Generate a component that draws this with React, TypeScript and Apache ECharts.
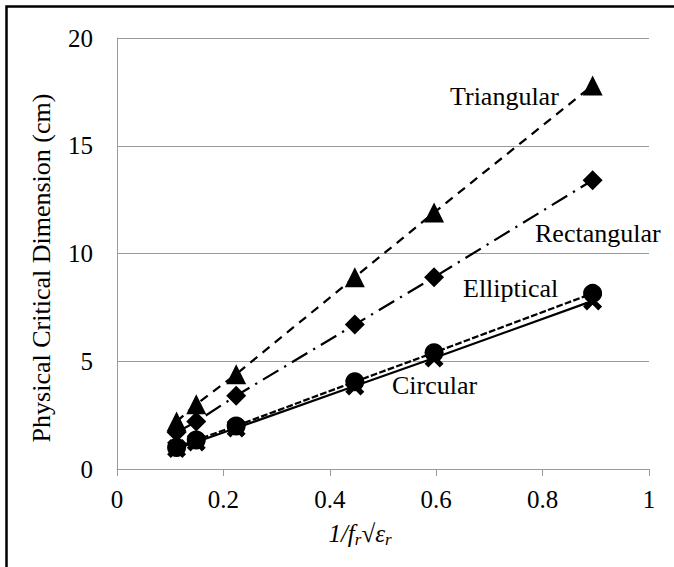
import React, { useEffect, useRef } from "react";
import * as echarts from "echarts";

const xValues = [0.112, 0.149, 0.224, 0.447, 0.596, 0.894];
const triangular = [2.2, 3.0, 4.4, 8.9, 11.9, 17.8];
const rectangular = [1.7, 2.2, 3.4, 6.7, 8.9, 13.4];
const circular = [0.95, 1.25, 1.9, 3.85, 5.15, 7.8];
const elliptical = [1.0, 1.35, 2.0, 4.05, 5.4, 8.15];
const xTicks = ["0", "0.2", "0.4", "0.6", "0.8", "1"];
const yTicks = ["0", "5", "10", "15", "20"];

const FONT = "Liberation Serif";
const GRAY = "#9a9a9a";
const LW = 2.25;
const X_PATH =
  "path://M0,2L2,0L5,3L8,0L10,2L7,5L10,8L8,10L5,7L2,10L0,8L3,5Z";

export default function App() {
  const ref = useRef<HTMLDivElement>(null);
  useEffect(() => {
    document.body.style.margin = "0";
    const chart = echarts.init(ref.current!, null, { renderer: "svg" });
    const pts = (arr: number[]) => xValues.map((x, i) => [x, arr[i]]);
    const line = (
      name: string,
      arr: number[],
      symbol: string,
      size: number,
      type: any,
      z: number
    ) => ({
      name,
      type: "line",
      data: pts(arr),
      symbol,
      symbolSize: size,
      showAllSymbol: true,
      z,
      itemStyle: { color: "#000", borderWidth: 0 },
      lineStyle: { color: "#000", width: LW, type },
      emphasis: { disabled: true },
    });
    const label = (text: string, x: number, y: number) => ({
      type: "text",
      silent: true,
      x,
      y,
      style: {
        text,
        fontFamily: FONT,
        fontSize: 26,
        fill: "#000",
        verticalAlign: "middle",
        align: "left",
      },
    });
    chart.setOption({
      animation: false,
      textStyle: { fontFamily: FONT },
      grid: { left: 117, right: 25, top: 38, bottom: 98 },
      xAxis: {
        type: "value",
        min: 0,
        max: 1,
        interval: 0.2,
        axisLine: { show: true, lineStyle: { color: GRAY, width: 1 } },
        axisTick: { show: true, length: 7, lineStyle: { color: GRAY, width: 1 } },
        splitLine: { show: false },
        axisLabel: {
          margin: 18,
          fontFamily: FONT,
          fontSize: 25,
          color: "#000",
          formatter: (v: number) => xTicks[Math.round(v / 0.2)] ?? String(v),
        },
      },
      yAxis: {
        type: "value",
        min: 0,
        max: 20,
        interval: 5,
        axisLine: { show: true, lineStyle: { color: GRAY, width: 1 } },
        axisTick: { show: false },
        splitLine: { show: true, lineStyle: { color: GRAY, width: 1 } },
        axisLabel: {
          margin: 24,
          fontFamily: FONT,
          fontSize: 25,
          color: "#000",
          formatter: (v: number) => yTicks[Math.round(v / 5)] ?? String(v),
        },
      },
      series: [
        line("Triangular", triangular, "triangle", 20, [9, 6.75], 2),
        line("Rectangular", rectangular, "diamond", 20, [18, 6.75, 2.25, 6.75], 3),
        line("Circular", circular, X_PATH, 19, "solid", 4),
        line("Elliptical", elliptical, "circle", 19, [6.75, 2.25], 5),
      ],
      graphic: [
        {
          type: "rect",
          silent: true,
          shape: { x: 6.5, y: 6.5, width: 720, height: 620 },
          style: { fill: "none", stroke: "#000", lineWidth: 2.5 },
        },
        label("Triangular", 450, 96),
        label("Rectangular", 535, 233),
        label("Elliptical", 463, 288),
        label("Circular", 392, 385),
        {
          type: "text",
          silent: true,
          x: 41,
          y: 268,
          rotation: Math.PI / 2,
          style: {
            text: "Physical Critical Dimension (cm)",
            fontFamily: FONT,
            fontSize: 26,
            fill: "#000",
            align: "center",
            verticalAlign: "middle",
          },
        },
        {
          type: "text",
          silent: true,
          x: 360,
          y: 533,
          style: {
            text: "{i|1/f}{s|r}{n|√}{i|ε}{s|r}",
            align: "center",
            verticalAlign: "middle",
            fill: "#000",
            rich: {
              i: { fontFamily: FONT, fontSize: 25, fontStyle: "italic", lineHeight: 30, fill: "#000" },
              n: { fontFamily: FONT, fontSize: 25, lineHeight: 30, fill: "#000" },
              s: { fontFamily: FONT, fontSize: 17, fontStyle: "italic", lineHeight: 6, verticalAlign: "bottom", fill: "#000" },
            },
          },
        },
      ],
    });
    return () => chart.dispose();
  }, []);
  return <div ref={ref} style={{ width: 674, height: 567 }} />;
}
